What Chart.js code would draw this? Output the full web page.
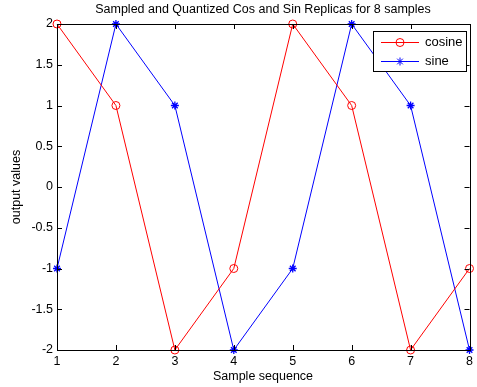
<!DOCTYPE html>
<html>
<head>
<meta charset="utf-8">
<script src="https://cdn.jsdelivr.net/npm/chart.js@4.4.1/dist/chart.umd.min.js"></script>
<style>
  html, body { margin: 0; padding: 0; background: #fff; }
  #wrap { width: 477px; height: 387px; }
</style>
</head>
<body>
<div id="wrap"><canvas id="plot" width="477" height="387"></canvas></div>
<script>
// data
const samples = [1, 2, 3, 4, 5, 6, 7, 8];
const cosineVals = [2, 1, -2, -1, 2, 1, -2, -1];
const sineVals = [-1, 2, 1, -2, -1, 2, 1, -2];
const xTicks = [1, 2, 3, 4, 5, 6, 7, 8];
const yTicks = [-2, -1.5, -1, -0.5, 0, 0.5, 1, 1.5, 2];

const FONT = "Liberation Sans, Arial, sans-serif";

function toPoints(vals) {
    return samples.map((s, i) => ({ x: s, y: vals[i] }));
}

// box, inward ticks, titles and legend in MATLAB style
const matlabFrame = {
    id: "matlabFrame",
    afterDraw(chart) {
        const ctx = chart.ctx;
        const a = chart.chartArea;
        const xs = chart.scales.x, ys = chart.scales.y;
        ctx.save();
        ctx.strokeStyle = "#000";
        ctx.lineWidth = 1;
        ctx.strokeRect(Math.round(a.left) + 0.5, Math.round(a.top) + 0.5,
            Math.round(a.right - a.left), Math.round(a.bottom - a.top));

        ctx.beginPath();
        xTicks.forEach(t => {
            const px = Math.round(xs.getPixelForValue(t)) + 0.5;
            ctx.moveTo(px, a.bottom); ctx.lineTo(px, a.bottom - 5);
            ctx.moveTo(px, a.top); ctx.lineTo(px, a.top + 5);
        });
        yTicks.forEach(t => {
            const py = Math.round(ys.getPixelForValue(t)) + 0.5;
            ctx.moveTo(a.left, py); ctx.lineTo(a.left + 5, py);
            ctx.moveTo(a.right, py); ctx.lineTo(a.right - 5, py);
        });
        ctx.stroke();

        // titles
        ctx.fillStyle = "#000";
        ctx.font = "12.5px " + FONT;
        ctx.textAlign = "center";
        ctx.textBaseline = "middle";
        ctx.fillText("Sampled and Quantized Cos and Sin Replicas for 8 samples", 263, 10);
        ctx.fillText("Sample sequence", 263, 377);
        ctx.save();
        ctx.translate(17, 187);
        ctx.rotate(-Math.PI / 2);
        ctx.fillText("output values", 0, 0);
        ctx.restore();

        // legend
        const lx = 373, ly = 31, lw = 93, lh = 40;
        ctx.fillStyle = "#fff";
        ctx.fillRect(lx, ly, lw, lh);
        ctx.strokeStyle = "#000";
        ctx.strokeRect(lx + 0.5, ly + 0.5, lw, lh);
        const entries = [
            { label: "cosine", color: "#ff0000", style: "circle", y: ly + 11 },
            { label: "sine", color: "#0000ff", style: "star", y: ly + 30 }
        ];
        entries.forEach(e => {
            ctx.strokeStyle = e.color;
            ctx.beginPath();
            ctx.moveTo(lx + 8, e.y + 0.5); ctx.lineTo(lx + 46, e.y + 0.5);
            ctx.stroke();
            ctx.fillStyle = "rgba(0,0,0,0)";
            ctx.strokeStyle = e.color;
            Chart.helpers.drawPoint(ctx, { pointStyle: e.style, radius: 4, borderWidth: 1 }, lx + 27, e.y + 0.5);
            ctx.fillStyle = "#000";
            ctx.textAlign = "left";
            ctx.font = "13px " + FONT;
            ctx.fillText(e.label, lx + 52, e.y);
        });
        ctx.restore();
    }
};

const tickFont = { family: FONT, size: 12.5 };

new Chart(document.getElementById("plot"), {
    type: "line",
    data: {
        datasets: [
            {
                label: "cosine",
                data: toPoints(cosineVals),
                borderColor: "#ff0000",
                backgroundColor: "transparent",
                borderWidth: 1,
                pointStyle: "circle",
                pointRadius: 4,
                pointBorderColor: "#ff0000",
                pointBackgroundColor: "transparent",
                pointBorderWidth: 1,
                tension: 0,
                clip: false
            },
            {
                label: "sine",
                data: toPoints(sineVals),
                borderColor: "#0000ff",
                backgroundColor: "transparent",
                borderWidth: 1,
                pointStyle: "star",
                pointRadius: 4,
                pointBorderColor: "#0000ff",
                pointBackgroundColor: "transparent",
                pointBorderWidth: 1.3,
                tension: 0,
                clip: false
            }
        ]
    },
    options: {
        responsive: false,
        animation: false,
        layout: { padding: { top: 24, right: 6, left: 0, bottom: 0 } },
        plugins: {
            legend: { display: false },
            title: { display: false },
            tooltip: { enabled: false }
        },
        scales: {
            x: {
                type: "linear",
                min: 1,
                max: 8,
                afterFit(scale) { scale.height = 37; },
                afterBuildTicks(scale) { scale.ticks = xTicks.map(v => ({ value: v })); },
                grid: { display: false, drawTicks: false, tickLength: 0 },
                border: { display: false },
                ticks: { color: "#000", font: tickFont, padding: 4, maxRotation: 0,
                    callback: v => String(v) }
            },
            y: {
                min: -2,
                max: 2,
                afterFit(scale) { scale.width = 57; },
                afterBuildTicks(scale) { scale.ticks = yTicks.map(v => ({ value: v })); },
                grid: { display: false, drawTicks: false, tickLength: 0 },
                border: { display: false },
                ticks: { color: "#000", font: tickFont, padding: 4,
                    callback: v => String(v) }
            }
        }
    },
    plugins: [matlabFrame]
});
</script>
</body>
</html>
